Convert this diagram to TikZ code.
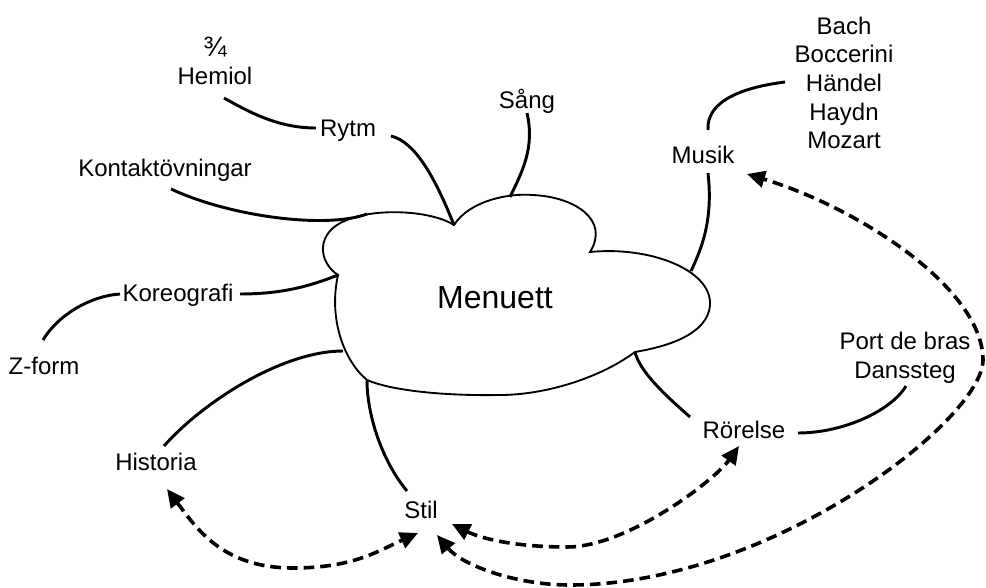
\documentclass[tikz,border=0pt]{standalone}
\usepackage{fontspec}
\setmainfont{Liberation Sans}
\usetikzlibrary{arrows.meta}

\begin{document}
\begin{tikzpicture}[x=0.75pt, y=-0.75pt, >={Triangle[length=13.5pt,width=12.5pt]}]
	\tikzstyle{every node}=[font=\fontsize{18}{21.5}\selectfont, align=center, inner sep=1pt]
	\tikzstyle{branch}=[line width=2.2pt]
	\tikzstyle{link}=[<->, line width=2.7pt, dash pattern=on 8pt off 4.5pt]
	\tikzstyle{moln}=[line width=1.4pt, fill=white]
	\useasboundingbox (0,0) rectangle (986,588);

	% cusps and attachment points of the cloud
	\coordinate (c1) at (338,275);
	\coordinate (c2) at (454,225);
	\coordinate (c3) at (590,252);
	\coordinate (c4) at (635,352);
	\coordinate (c5) at (367,380);
	\coordinate (sangend) at (510,197);
	\coordinate (kontend) at (367,214);
	\coordinate (histend) at (343,351);
	\coordinate (musend)  at (691,271);

	\draw[moln] (c1) .. controls (318,262) and (315,232) .. (347,220)
		.. controls (375,208) and (430,210) .. (c2)
		.. controls (470,200) and (510,193) .. (533,195)
		.. controls (575,197) and (610,220) .. (c3)
		.. controls (650,246) and (712,270) .. (710,305)
		.. controls (708,335) and (665,347) .. (c4)
		.. controls (600,378) and (545,395) .. (500,395)
		.. controls (440,396) and (390,390) .. (c5)
		.. controls (345,362) and (328,320) .. cycle;

	\node (menuett)  at (495,298) {\fontsize{24}{28}\selectfont Menuett};
	\node (hemiol)   at (215,61)  {{\fontsize{21}{21.5}\selectfont ¾}\\Hemiol};
	\node (rytm)     at (348,131) {Rytm};
	\node (sang)     at (527,101) {Sång};
	\node (kontakt)  at (165,170) {Kontaktövningar};
	\node (koreo)    at (178,295) {Koreografi};
	\node (zform)    at (44,366)  {Z-form};
	\node (historia) at (156,462) {Historia};
	\node (stil)     at (421,510) {Stil};
	\node (musik)    at (703,155) {Musik};
	\node (komp)     at (844,83)  {Bach\\Boccerini\\Händel\\Haydn\\Mozart};
	\node (rorelse)  at (744,430) {Rörelse};
	\node (steg)     at (905,358) {Port de bras\\Danssteg};

	% branches
	\draw[branch] ([shift={(9,37)}]hemiol.center) .. controls +(30,17) and +(-35,0) .. ([shift={(-32,-3)}]rytm.center);
	\draw[branch] ([shift={(43,5)}]rytm.center) .. controls +(25,6) and +(-18,-45) .. (c2);
	\draw[branch] ([shift={(0,12)}]sang.center) .. controls +(8,35) and +(12,-25) .. (sangend);
	\draw[branch] ([shift={(6,19)}]kontakt.center) .. controls +(60,28) and +(-40,15) .. (kontend);
	\draw[branch] ([shift={(62,-1)}]koreo.center) .. controls +(40,0) and +(-30,12) .. (c1);
	\draw[branch] ([shift={(-1,-26)}]zform.center) .. controls +(15,-25) and +(-30,2) .. ([shift={(-58,-1)}]koreo.center);
	\draw[branch] ([shift={(8,-16)}]historia.center) .. controls +(40,-45) and +(-60,0) .. (histend);
	\draw[branch] ([shift={(-14,-19)}]stil.center) .. controls +(-25,-30) and +(0,35) .. (c5);
	\draw[branch] ([shift={(-54,-13)}]rorelse.center) .. controls +(-25,-22) and +(5,20) .. (c4);
	\draw[branch] ([shift={(54,3)}]rorelse.center) .. controls +(45,0) and +(-15,25) .. ([shift={(1,28)}]steg.center);
	\draw[branch] ([shift={(5,18)}]musik.center) .. controls +(5,45) and +(12,-25) .. (musend);
	\draw[branch] ([shift={(5,-25)}]musik.center) .. controls +(-2,-30) and +(-40,5) .. ([shift={(-59,-1)}]komp.center);

	% dashed links
	\draw[link] ([shift={(11,27)}]historia.center) .. controls +(30,40) and +(-70,0) .. (293,568)
		.. controls +(60,0) and +(-40,18) .. ([shift={(-3,23)}]stil.center);
	\draw[link] ([shift={(31,14)}]stil.center) .. controls +(30,15) and +(-50,0) .. (567,547)
		.. controls +(60,0) and +(-25,35) .. ([shift={(-5,16)}]rorelse.center);
	\draw[link] ([shift={(16,25)}]stil.center) .. controls +(25,30) and +(-55,0) .. (570,585)
		.. controls +(200,0) and +(0,60) .. (983,360)
		.. controls +(0,-70) and +(115,35) .. ([shift={(44,19)}]musik.center);
\end{tikzpicture}
\end{document}
